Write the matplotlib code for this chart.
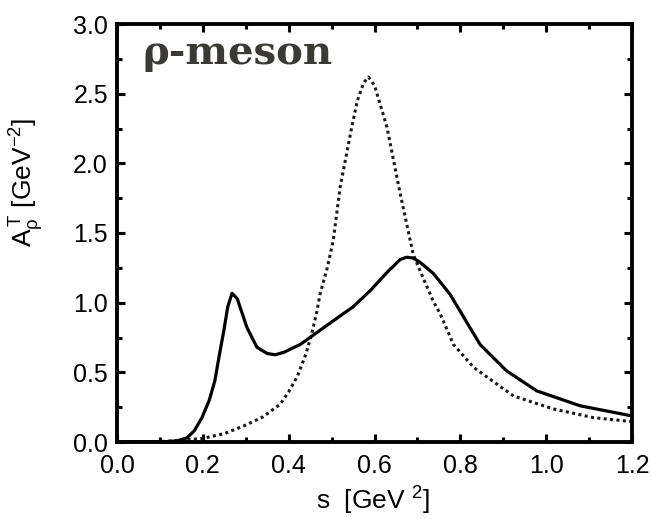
import matplotlib
matplotlib.use("Agg")
import matplotlib.pyplot as plt
from matplotlib.ticker import MultipleLocator

plt.rcParams['font.family'] = ['Liberation Sans', 'DejaVu Sans']
plt.rcParams['mathtext.fontset'] = 'custom'
plt.rcParams['mathtext.rm'] = 'Liberation Sans'
plt.rcParams['mathtext.it'] = 'Liberation Sans'
plt.rcParams['mathtext.bf'] = 'Liberation Sans:bold'

# Solid curve
s_solid = [0.0, 0.10, 0.14, 0.163, 0.18, 0.198, 0.215, 0.228, 0.24, 0.249, 0.258,
           0.268, 0.28, 0.303, 0.326, 0.35, 0.369, 0.39, 0.403, 0.427, 0.466, 0.504,
           0.55, 0.59, 0.63, 0.66, 0.675, 0.69, 0.706, 0.737, 0.776, 0.846, 0.908,
           0.978, 1.079, 1.2]
v_solid = [0.0, 0.0, 0.008, 0.03, 0.08, 0.175, 0.30, 0.44, 0.65, 0.80, 0.97,
           1.067, 1.03, 0.82, 0.68, 0.635, 0.626, 0.645, 0.665, 0.70, 0.786, 0.87,
           0.97, 1.086, 1.22, 1.31, 1.326, 1.32, 1.29, 1.21, 1.06, 0.70, 0.51,
           0.367, 0.26, 0.187]

# Dotted curve
s_dot = [0.0, 0.10, 0.15, 0.20, 0.25, 0.295, 0.34, 0.38, 0.40, 0.42, 0.44, 0.454,
         0.466, 0.473, 0.49, 0.504, 0.52, 0.535, 0.547, 0.56, 0.575, 0.586, 0.60,
         0.629, 0.66, 0.69, 0.706, 0.737, 0.753, 0.784, 0.831, 0.924, 1.017, 1.11, 1.2]
v_dot = [0.0, 0.003, 0.012, 0.026, 0.06, 0.115, 0.18, 0.27, 0.36, 0.47, 0.63, 0.78,
         0.94, 1.06, 1.25, 1.45, 1.83, 2.07, 2.26, 2.45, 2.58, 2.62, 2.56,
         2.26, 1.78, 1.35, 1.23, 1.01, 0.92, 0.70, 0.535, 0.33, 0.237, 0.175, 0.146]

x_ticks = [0.0, 0.2, 0.4, 0.6, 0.8, 1.0, 1.2]
y_ticks = [0.0, 0.5, 1.0, 1.5, 2.0, 2.5, 3.0]

fig = plt.figure(figsize=(6.52, 5.19), dpi=100)
ax = fig.add_axes([117/652, 1 - 442/519, (632 - 117)/652, (442 - 24)/519])

ax.plot(s_dot, v_dot, color='#1a1a1a', lw=2.2, linestyle=(0, (1, 1.1)))
ax.plot(s_solid, v_solid, color='black', lw=2.3)

ax.set_xlim(0, 1.2)
ax.set_ylim(0, 3.0)
ax.set_xticks(x_ticks)
ax.set_yticks(y_ticks)
ax.set_xticklabels([f"{t:.1f}" for t in x_ticks])
ax.set_yticklabels([f"{t:.1f}" for t in y_ticks])
ax.xaxis.set_minor_locator(MultipleLocator(0.1))
ax.yaxis.set_minor_locator(MultipleLocator(0.25))
ax.tick_params(which='both', direction='in', top=True, right=True, width=2.2,
               labelsize=18, colors='black')
ax.tick_params(which='major', length=6)
ax.tick_params(which='minor', length=3.5)
ax.tick_params(axis='x', which='both', pad=8.5)
ax.tick_params(axis='y', which='both', pad=6.5)
for sp in ax.spines.values():
    sp.set_linewidth(2.8)

ax.set_xlabel(r's  [GeV $^{2}$]', fontsize=19)
ax.xaxis.set_label_coords(0.497, -0.103)
ax.set_ylabel(r'$\mathregular{A_{\rho}^{\,T}}$ [GeV$^{-2}$]', fontsize=19)
ax.yaxis.set_label_coords(-0.137, 0.62)

ax.text(0.05, 0.905, 'ρ-meson', transform=ax.transAxes, fontsize=29,
        fontweight='bold', family=['DejaVu Serif'], color='#3a3935', va='baseline')

fig.savefig('out.png', dpi=100)
